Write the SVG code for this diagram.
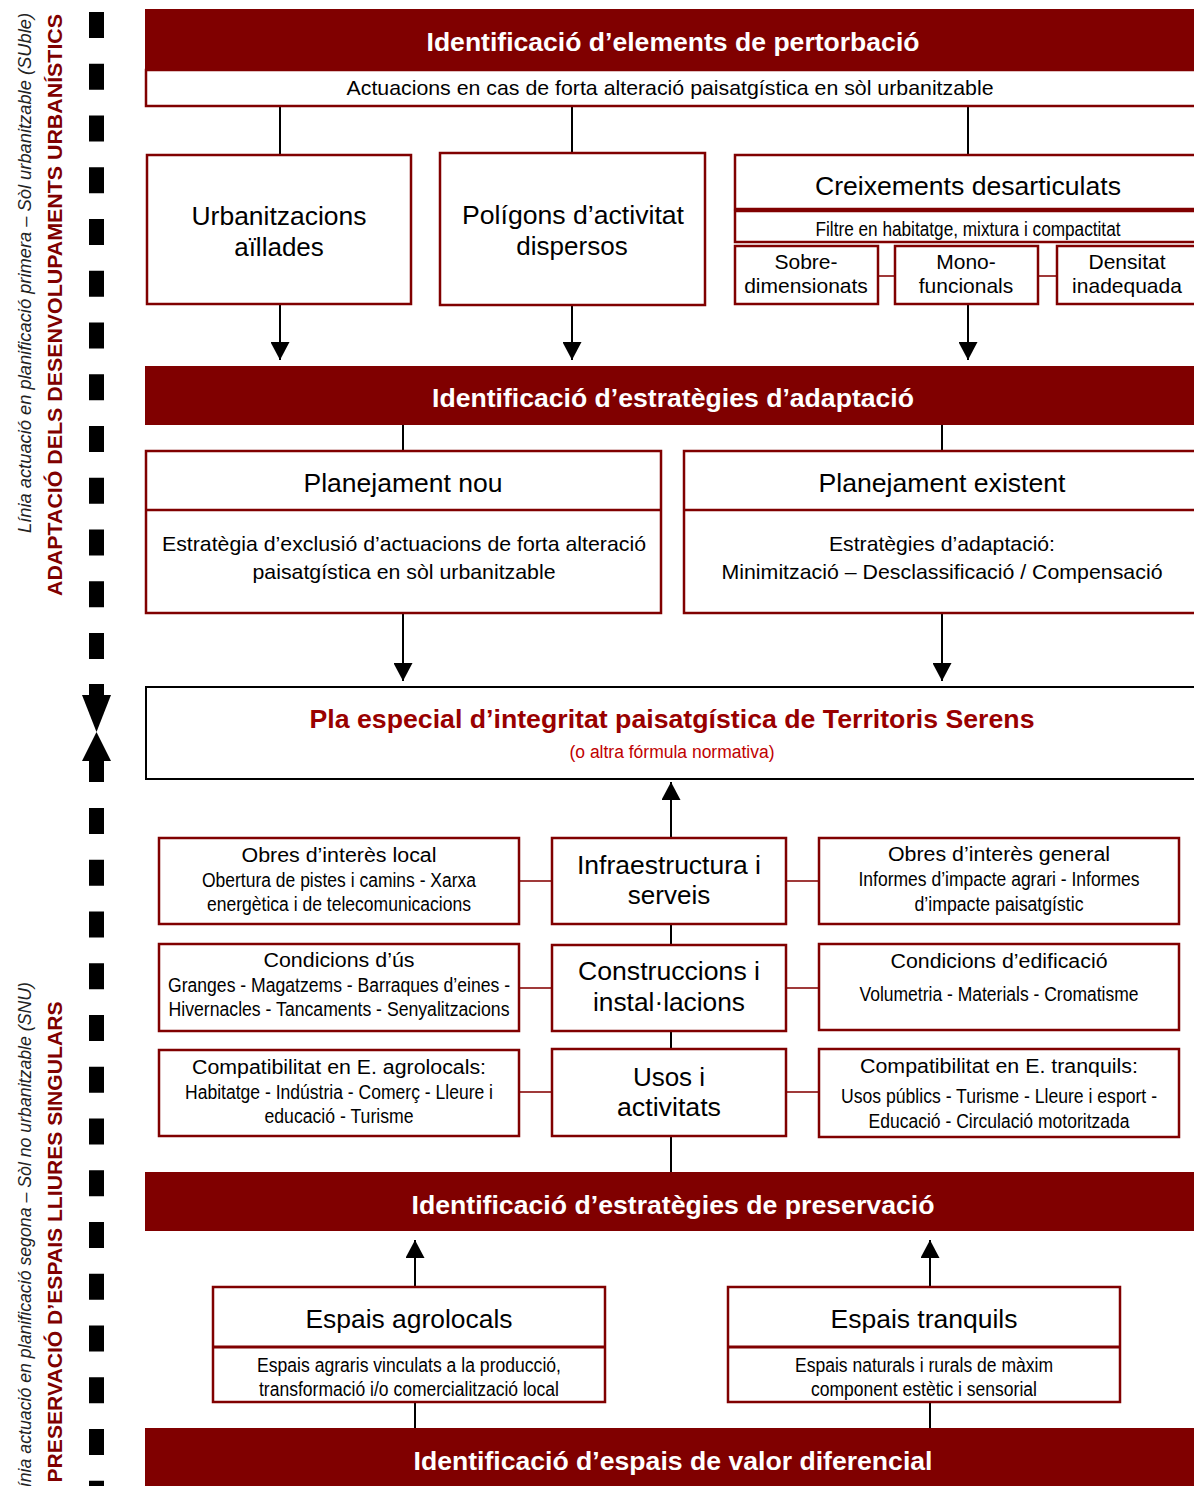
<svg xmlns="http://www.w3.org/2000/svg" width="1194" height="1486" viewBox="0 0 1194 1486">
<defs>
<style>
text{font-family:"Liberation Sans",Arial,sans-serif;text-anchor:middle;fill:#000}
.hdr{fill:#800000}
.ht{font-size:26px;font-weight:bold;fill:#fff}
.box{fill:#fff;stroke:#800000;stroke-width:2.5}
.big{font-size:26px}
.mid{font-size:21px}
.sm{font-size:20px}
.conn{stroke:#000;stroke-width:2;fill:none}
.rconn{stroke:#a03a3a;stroke-width:2;fill:none}
.dash{stroke:#000;stroke-width:15;stroke-dasharray:26 25.75;fill:none}
.side{font-size:18px;font-style:italic;fill:#222}
.sideb{font-size:21px;font-weight:bold;fill:#800000}
</style>
<marker id="ah" viewBox="0 0 18 19" refX="18" refY="9.5" markerWidth="18" markerHeight="19" markerUnits="userSpaceOnUse" orient="auto">
<path d="M0,0 L18,9.5 L0,19 Z" fill="#000"/>
</marker>
</defs>

<g id="side">
<line class="dash" x1="96.5" y1="12" x2="96.5" y2="660"/>
<rect x="89" y="684" width="15" height="13" fill="#000"/>
<polygon points="82,695 111,695 96.5,732" fill="#000"/>
<polygon points="82,761 111,761 96.5,732" fill="#000"/>
<rect x="89" y="759" width="15" height="23" fill="#000"/>
<line class="dash" x1="96.5" y1="808" x2="96.5" y2="1490"/>
<text class="side" transform="translate(31,533) rotate(-90)" style="text-anchor:start" textLength="520" lengthAdjust="spacingAndGlyphs">Línia actuació en planificació primera – Sòl urbanitzable (SUble)</text>
<text class="sideb" transform="translate(62,305) rotate(-90)" textLength="582" lengthAdjust="spacingAndGlyphs">ADAPTACIÓ DELS DESENVOLUPAMENTS URBANÍSTICS</text>
<text class="side" transform="translate(31,982) rotate(-90)" style="text-anchor:end" textLength="515" lengthAdjust="spacingAndGlyphs">Línia actuació en planificació segona – Sòl no urbanitzable (SNU)</text>
<text class="sideb" transform="translate(62,1242) rotate(-90)" textLength="481" lengthAdjust="spacingAndGlyphs">PRESERVACIÓ D’ESPAIS LLIURES SINGULARS</text>
</g>

<g id="connectors">
<line class="conn" x1="280" y1="107" x2="280" y2="155"/>
<line class="conn" x1="572" y1="107" x2="572" y2="153"/>
<line class="conn" x1="968" y1="107" x2="968" y2="155"/>
<line class="conn" x1="280" y1="304" x2="280" y2="360" marker-end="url(#ah)"/>
<line class="conn" x1="572" y1="305" x2="572" y2="360" marker-end="url(#ah)"/>
<line class="conn" x1="968" y1="304" x2="968" y2="360" marker-end="url(#ah)"/>
<line class="rconn" x1="878" y1="276" x2="895" y2="276"/>
<line class="rconn" x1="1038" y1="276" x2="1057" y2="276"/>
<line class="conn" x1="403" y1="425" x2="403" y2="451"/>
<line class="conn" x1="942" y1="425" x2="942" y2="451"/>
<line class="conn" x1="403" y1="613" x2="403" y2="681" marker-end="url(#ah)"/>
<line class="conn" x1="942" y1="613" x2="942" y2="681" marker-end="url(#ah)"/>
<line class="conn" x1="671" y1="838" x2="671" y2="782" marker-end="url(#ah)"/>
<line class="conn" x1="671" y1="924" x2="671" y2="945"/>
<line class="conn" x1="671" y1="1031" x2="671" y2="1049"/>
<line class="conn" x1="671" y1="1136" x2="671" y2="1172"/>
<line class="rconn" x1="519" y1="881" x2="552" y2="881"/>
<line class="rconn" x1="786" y1="881" x2="819" y2="881"/>
<line class="rconn" x1="519" y1="988" x2="552" y2="988"/>
<line class="rconn" x1="786" y1="988" x2="819" y2="988"/>
<line class="rconn" x1="519" y1="1092" x2="552" y2="1092"/>
<line class="rconn" x1="786" y1="1092" x2="819" y2="1092"/>
<line class="conn" x1="415" y1="1287" x2="415" y2="1240" marker-end="url(#ah)"/>
<line class="conn" x1="930" y1="1287" x2="930" y2="1240" marker-end="url(#ah)"/>
<line class="conn" x1="415" y1="1402" x2="415" y2="1428"/>
<line class="conn" x1="930" y1="1402" x2="930" y2="1428"/>
</g>

<g id="h1">
<rect class="hdr" x="145" y="9" width="1052" height="61"/>
<rect class="box" x="146" y="70" width="1052" height="36"/>
<text class="ht" x="673" y="51" textLength="493" lengthAdjust="spacingAndGlyphs">Identificació d’elements de pertorbació</text>
<text class="mid" x="670" y="95" textLength="647" lengthAdjust="spacingAndGlyphs">Actuacions en cas de forta alteració paisatgística en sòl urbanitzable</text>
</g>

<g id="urb">
<rect class="box" x="147" y="155" width="264" height="149"/>
<text class="big" x="279" y="225" textLength="175" lengthAdjust="spacingAndGlyphs">Urbanitzacions</text>
<text class="big" x="279" y="256">aïllades</text>
</g>

<g id="pol">
<rect class="box" x="440" y="153" width="265" height="152"/>
<text class="big" x="573" y="224" textLength="222" lengthAdjust="spacingAndGlyphs">Polígons d’activitat</text>
<text class="big" x="572" y="255">dispersos</text>
</g>

<g id="creix">
<rect class="box" x="735" y="155" width="462" height="54"/>
<text class="big" x="968" y="195" textLength="306" lengthAdjust="spacingAndGlyphs">Creixements desarticulats</text>
<rect class="box" x="735" y="211" width="462" height="31"/>
<text class="sm" x="968" y="236" textLength="305" lengthAdjust="spacingAndGlyphs">Filtre en habitatge, mixtura i compactitat</text>
</g>
<g id="sobre">
<rect class="box" x="735" y="246" width="143" height="58"/>
<text class="mid" x="806" y="269">Sobre-</text>
<text class="mid" x="806" y="293">dimensionats</text>
</g>
<g id="mono">
<rect class="box" x="895" y="246" width="143" height="58"/>
<text class="mid" x="966" y="269">Mono-</text>
<text class="mid" x="966" y="293">funcionals</text>
</g>
<g id="dens">
<rect class="box" x="1057" y="246" width="140" height="58"/>
<text class="mid" x="1127" y="269">Densitat</text>
<text class="mid" x="1127" y="293">inadequada</text>
</g>

<g id="h2">
<rect class="hdr" x="145" y="366" width="1052" height="59"/>
<text class="ht" x="673" y="407" textLength="482" lengthAdjust="spacingAndGlyphs">Identificació d’estratègies d’adaptació</text>
</g>

<g id="nou">
<rect class="box" x="146" y="451" width="515" height="162"/>
<line x1="146" y1="510" x2="661" y2="510" stroke="#800000" stroke-width="2.5"/>
<text class="big" x="403" y="492" textLength="199" lengthAdjust="spacingAndGlyphs">Planejament nou</text>
<text class="mid" x="404" y="551" textLength="484" lengthAdjust="spacingAndGlyphs">Estratègia d’exclusió d’actuacions de forta alteració</text>
<text class="mid" x="404" y="579" textLength="303" lengthAdjust="spacingAndGlyphs">paisatgística en sòl urbanitzable</text>
</g>

<g id="exist">
<rect class="box" x="684" y="451" width="513" height="162"/>
<line x1="684" y1="510" x2="1197" y2="510" stroke="#800000" stroke-width="2.5"/>
<text class="big" x="942" y="492" textLength="247" lengthAdjust="spacingAndGlyphs">Planejament existent</text>
<text class="mid" x="942" y="551" textLength="226" lengthAdjust="spacingAndGlyphs">Estratègies d’adaptació:</text>
<text class="mid" x="942" y="579" textLength="441" lengthAdjust="spacingAndGlyphs">Minimització – Desclassificació / Compensació</text>
</g>

<g id="pla">
<rect x="146" y="687" width="1052" height="92" fill="#fff" stroke="#000" stroke-width="2"/>
<text x="672" y="728" style="font-size:25px;font-weight:bold;fill:#990000" textLength="725" lengthAdjust="spacingAndGlyphs">Pla especial d’integritat paisatgística de Territoris Serens</text>
<text x="672" y="758" style="font-size:18px;fill:#c00000" textLength="205" lengthAdjust="spacingAndGlyphs">(o altra fórmula normativa)</text>
</g>

<g id="obresl">
<rect class="box" x="159" y="838" width="360" height="86"/>
<text class="sm" x="339" y="862" textLength="195" lengthAdjust="spacingAndGlyphs">Obres d’interès local</text>
<text class="sm" x="339" y="887" textLength="274" lengthAdjust="spacingAndGlyphs">Obertura de pistes i camins - Xarxa</text>
<text class="sm" x="339" y="911" textLength="264" lengthAdjust="spacingAndGlyphs">energètica i de telecomunicacions</text>
</g>
<g id="infra">
<rect class="box" x="552" y="838" width="234" height="86"/>
<text class="big" x="669" y="874" textLength="184" lengthAdjust="spacingAndGlyphs">Infraestructura i</text>
<text class="big" x="669" y="904">serveis</text>
</g>
<g id="obresg">
<rect class="box" x="819" y="838" width="360" height="86"/>
<text class="sm" x="999" y="861" textLength="222" lengthAdjust="spacingAndGlyphs">Obres d’interès general</text>
<text class="sm" x="999" y="886" textLength="281" lengthAdjust="spacingAndGlyphs">Informes d’impacte agrari - Informes</text>
<text class="sm" x="999" y="911" textLength="169" lengthAdjust="spacingAndGlyphs">d’impacte paisatgístic</text>
</g>

<g id="condus">
<rect class="box" x="159" y="944" width="360" height="87"/>
<text class="sm" x="339" y="967" textLength="151" lengthAdjust="spacingAndGlyphs">Condicions d’ús</text>
<text class="sm" x="339" y="992" textLength="342" lengthAdjust="spacingAndGlyphs">Granges - Magatzems - Barraques d’eines -</text>
<text class="sm" x="339" y="1016" textLength="341" lengthAdjust="spacingAndGlyphs">Hivernacles - Tancaments - Senyalitzacions</text>
</g>
<g id="constr">
<rect class="box" x="552" y="945" width="234" height="86"/>
<text class="big" x="669" y="980" textLength="182" lengthAdjust="spacingAndGlyphs">Construccions i</text>
<text class="big" x="669" y="1011" textLength="152" lengthAdjust="spacingAndGlyphs">instal·lacions</text>
</g>
<g id="condedif">
<rect class="box" x="819" y="944" width="360" height="86"/>
<text class="sm" x="999" y="968" textLength="217" lengthAdjust="spacingAndGlyphs">Condicions d’edificació</text>
<text class="sm" x="999" y="1001" textLength="279" lengthAdjust="spacingAndGlyphs">Volumetria - Materials - Cromatisme</text>
</g>

<g id="compagro">
<rect class="box" x="159" y="1050" width="360" height="86"/>
<text class="sm" x="339" y="1074" textLength="294" lengthAdjust="spacingAndGlyphs">Compatibilitat en E. agrolocals:</text>
<text class="sm" x="339" y="1099" textLength="308" lengthAdjust="spacingAndGlyphs">Habitatge - Indústria - Comerç - Lleure i</text>
<text class="sm" x="339" y="1123" textLength="149" lengthAdjust="spacingAndGlyphs">educació - Turisme</text>
</g>
<g id="usos">
<rect class="box" x="552" y="1049" width="234" height="87"/>
<text class="big" x="669" y="1086">Usos i</text>
<text class="big" x="669" y="1116" textLength="104" lengthAdjust="spacingAndGlyphs">activitats</text>
</g>
<g id="comptranq">
<rect class="box" x="819" y="1049" width="360" height="88"/>
<text class="sm" x="999" y="1073" textLength="278" lengthAdjust="spacingAndGlyphs">Compatibilitat en E. tranquils:</text>
<text class="sm" x="999" y="1103" textLength="316" lengthAdjust="spacingAndGlyphs">Usos públics - Turisme - Lleure i esport -</text>
<text class="sm" x="999" y="1128" textLength="261" lengthAdjust="spacingAndGlyphs">Educació - Circulació motoritzada</text>
</g>

<g id="h3">
<rect class="hdr" x="145" y="1172" width="1052" height="59"/>
<text class="ht" x="673" y="1214" textLength="523" lengthAdjust="spacingAndGlyphs">Identificació d’estratègies de preservació</text>
</g>

<g id="agro">
<rect class="box" x="213" y="1287" width="392" height="115"/>
<line x1="213" y1="1347" x2="605" y2="1347" stroke="#800000" stroke-width="3"/>
<text class="big" x="409" y="1328" textLength="207" lengthAdjust="spacingAndGlyphs">Espais agrolocals</text>
<text class="sm" x="409" y="1372" textLength="304" lengthAdjust="spacingAndGlyphs">Espais agraris vinculats a la producció,</text>
<text class="sm" x="409" y="1396" textLength="300" lengthAdjust="spacingAndGlyphs">transformació i/o comercialització local</text>
</g>
<g id="tranq">
<rect class="box" x="728" y="1287" width="392" height="115"/>
<line x1="728" y1="1347" x2="1120" y2="1347" stroke="#800000" stroke-width="3"/>
<text class="big" x="924" y="1328" textLength="187" lengthAdjust="spacingAndGlyphs">Espais tranquils</text>
<text class="sm" x="924" y="1372" textLength="258" lengthAdjust="spacingAndGlyphs">Espais naturals i rurals de màxim</text>
<text class="sm" x="924" y="1396" textLength="226" lengthAdjust="spacingAndGlyphs">component estètic i sensorial</text>
</g>

<g id="h4">
<rect class="hdr" x="145" y="1428" width="1052" height="62"/>
<text class="ht" x="673" y="1470" textLength="519" lengthAdjust="spacingAndGlyphs">Identificació d’espais de valor diferencial</text>
</g>
</svg>
